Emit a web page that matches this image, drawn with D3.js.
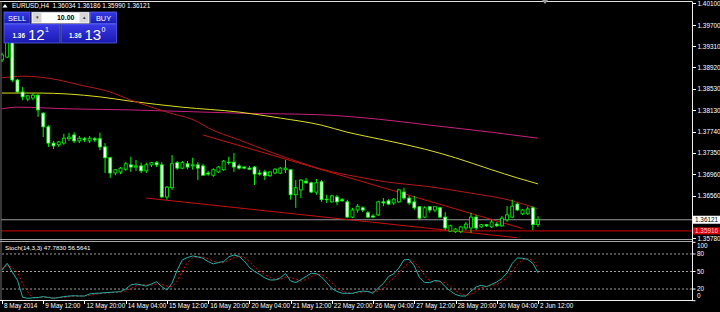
<!DOCTYPE html>
<html>
<head>
<meta charset="utf-8">
<script src="https://cdn.jsdelivr.net/npm/d3@7"></script>
<style>
    html, body { margin: 0; padding: 0; background: #000; }
    #chart { width: 720px; height: 312px; }
    svg { display: block; font-family: "Liberation Sans", Arial, sans-serif; }
    .axis text { fill: #fff; font-size: 6.4px; }
    .axis path, .axis line { stroke: #fff; shape-rendering: crispEdges; }
    .wick { stroke: #00ff00; stroke-width: 1; }
    .body { stroke: #00ff00; stroke-width: 0.8; }
</style>
</head>
<body>
<div id="chart"></div>
<script>
// EURUSD H4, 8 May 04:00 .. 2 Jun 12:00 (bar index 0..104)
var openP = [1.3906,1.3911,1.3970,1.3869,1.3847,1.3834,1.3836,1.3841,1.3808,1.3783,
    1.3753,1.3750,1.3753,1.3761,1.3768,1.3757,1.3761,1.3757,1.3761,1.3761,
    1.3746,1.3726,1.3698,1.3700,1.3705,1.3713,1.3709,1.3711,1.3702,1.3713,
    1.3717,1.3713,1.3654,1.3671,1.3717,1.3707,1.3715,1.3711,1.3713,1.3711,
    1.3698,1.3694,1.3700,1.3704,1.3718,1.3718,1.3711,1.3709,1.3707,1.3709,
    1.3698,1.3700,1.3693,1.3698,1.3698,1.3704,1.3704,1.3658,1.3667,1.3683,
    1.3680,1.3663,1.3682,1.3649,1.3645,1.3654,1.3649,1.3645,1.3617,1.3630,
    1.3634,1.3625,1.3619,1.3621,1.3645,1.3647,1.3643,1.3645,1.3663,1.3652,
    1.3645,1.3636,1.3617,1.3636,1.3630,1.3634,1.3617,1.3591,1.3590,1.3590,
    1.3597,1.3597,1.3617,1.3599,1.3603,1.3599,1.3604,1.3601,1.3612,1.3617,
    1.3641,1.3623,1.3623,1.3634,1.36034];
var highP = [1.3919,1.3994,1.3989,1.3871,1.3856,1.3841,1.3845,1.3843,1.3810,1.3786,
    1.3757,1.3757,1.3770,1.3772,1.3773,1.3766,1.3764,1.3766,1.3764,1.3772,
    1.3753,1.3728,1.3705,1.3709,1.3718,1.3728,1.3722,1.3717,1.3717,1.3718,
    1.3720,1.3718,1.3674,1.3731,1.3720,1.3720,1.3720,1.3726,1.3718,1.3715,
    1.3702,1.3707,1.3711,1.3722,1.3728,1.3735,1.3715,1.3711,1.3711,1.3711,
    1.3704,1.3704,1.3702,1.3707,1.3709,1.3722,1.3705,1.3685,1.3687,1.3689,
    1.3682,1.3687,1.3685,1.3658,1.3658,1.3658,1.3652,1.3649,1.3634,1.3641,
    1.3637,1.3628,1.3623,1.3647,1.3652,1.3650,1.3652,1.3669,1.3671,1.3656,
    1.3656,1.3637,1.3637,1.3637,1.3637,1.3636,1.3626,1.3603,1.3597,1.3601,
    1.3608,1.3625,1.3621,1.3604,1.3604,1.3612,1.3608,1.3619,1.3637,1.3649,
    1.3643,1.3632,1.3636,1.3637,1.36186];
var lowP = [1.3902,1.3910,1.3865,1.3845,1.3832,1.3830,1.3832,1.3801,1.3764,1.3746,
    1.3742,1.3746,1.3750,1.3757,1.3753,1.3753,1.3755,1.3753,1.3755,1.3740,
    1.3698,1.3689,1.3694,1.3696,1.3702,1.3700,1.3702,1.3698,1.3698,1.3709,
    1.3709,1.3652,1.3649,1.3667,1.3704,1.3705,1.3705,1.3704,1.3685,1.3693,
    1.3693,1.3691,1.3698,1.3702,1.3713,1.3700,1.3704,1.3705,1.3704,1.3676,
    1.3693,1.3685,1.3691,1.3696,1.3696,1.3698,1.3649,1.3634,1.3652,1.3678,
    1.3661,1.3658,1.3645,1.3643,1.3643,1.3639,1.3645,1.3615,1.3615,1.3625,
    1.3626,1.3615,1.3615,1.3619,1.3637,1.3639,1.3639,1.3643,1.3649,1.3639,
    1.3630,1.3612,1.3615,1.3625,1.3626,1.3615,1.3593,1.3590,1.3588,1.3588,
    1.3593,1.3588,1.3593,1.3597,1.3599,1.3597,1.3599,1.3599,1.3608,1.3615,
    1.3628,1.3621,1.3621,1.3593,1.35990];
var closeP = [1.3915,1.3970,1.3869,1.3847,1.3838,1.3840,1.3841,1.3814,1.3783,1.3753,
    1.3748,1.3755,1.3762,1.3764,1.3757,1.3762,1.3759,1.3762,1.3759,1.3746,
    1.3726,1.3698,1.3704,1.3707,1.3715,1.3709,1.3711,1.3702,1.3713,1.3717,
    1.3713,1.3654,1.3672,1.3715,1.3707,1.3717,1.3709,1.3713,1.3707,1.3694,
    1.3696,1.3704,1.3709,1.3720,1.3717,1.3709,1.3707,1.3707,1.3705,1.3696,
    1.3696,1.3693,1.3700,1.3705,1.3707,1.3707,1.3658,1.3671,1.3685,1.3680,
    1.3663,1.3680,1.3649,1.3650,1.3656,1.3645,1.3647,1.3617,1.3630,1.3637,
    1.3630,1.3617,1.3617,1.3645,1.3643,1.3641,1.3650,1.3667,1.3652,1.3643,
    1.3634,1.3615,1.3634,1.3630,1.3636,1.3617,1.3597,1.3601,1.3595,1.3599,
    1.3604,1.3617,1.3597,1.3603,1.3601,1.3608,1.3601,1.3615,1.3621,1.3637,
    1.3630,1.3630,1.3632,1.3603,1.36121];

// moving averages, read at a few bars
var redMaBar = [0, 4, 11, 15, 21, 25, 32, 38, 40, 46, 52, 58, 62, 69, 75, 82, 91, 99, 104];
var redMaVal = [1.3873,1.3876,1.3869,1.3860,1.3847,1.3832,1.3810,1.3792,1.3781,1.3759,
    1.3737,1.3717,1.3705,1.3691,1.3681,1.3674,1.3661,1.3647,1.3632];
var yellowMaBar = [0, 7, 19, 25, 35, 46, 54, 62, 67, 74, 82, 88, 95, 100, 104];
var yellowMaVal = [1.3845,1.3845,1.3838,1.3830,1.3819,1.3810,1.3799,1.3786,1.3773,1.3759,
    1.3742,1.3726,1.3704,1.3689,1.3678];
var magentaMaBar = [0, 3, 13, 25, 46, 62, 73, 83, 95, 104];
var magentaMaVal = [1.3816,1.3819,1.3816,1.3814,1.3808,1.3805,1.3797,1.3786,1.3773,1.3762];

// drawn objects
var upperTrend = [[39, 1.3768], [101, 1.3596]];
var lowerTrend = [[28, 1.3652], [100, 1.3579]];
var hLinePrice = 1.35916;
var bidPrice = 1.36121;

// stochastic (14,3,3)
var stochK = [52.6,64,49,35,6,4,5,5.5,7,5.5,
    4,5.5,7,8,8.5,8,8,11.5,12.7,13,
    13.7,14.4,15,15.4,20,27,28.6,27,25,28.6,
    32.6,24,18.3,30,52.6,70,74,76.6,75,72.7,
    67,63,65.5,67,75,78.3,76,68,57,50,
    45,39,35.5,35.5,39,46.6,33.8,31,36,41.5,
    47,46.6,40.6,31,21,15.8,12.7,12.7,12.7,15,
    16.6,15.8,12.7,21.8,29.5,41.5,46,56,70,70.6,
    59.5,39.8,31.5,30.9,34.6,33.4,24,16.6,10.6,8,
    8,16.6,23.5,26.4,24,27.8,32,38,47.5,63.8,
    73.2,72.7,70.6,64,47.783];
var stochD = [55,60,57,48,30,15,5,5,6,6,
    5.5,5,5.5,6.8,7.8,8.2,8.2,9.2,10.7,12.4,
    13.1,13.7,14.4,14.9,16.8,20.8,25.2,27.5,26.9,26.9,
    28.7,28.4,25,24,33.6,51,65.5,73.5,75.2,74.8,
    71.6,67.6,65.2,65.2,69.2,73.4,76.4,74.1,67,58.3,
    50.7,44.7,39.8,36.7,36.7,40.4,39.8,37.1,33.6,36.2,
    41.5,45,44.7,39.4,30.9,22.6,16.5,13.7,12.7,13.5,
    14.8,15.8,15,16.8,21.3,30.9,39,47.8,57.3,65.5,
    66.7,56.6,43.6,34,32.3,33,30.7,24.7,17.1,11.7,
    8.9,10.9,16,22.2,24.6,26.1,27.9,32.6,39.2,49.8,
    61.5,69.9,72.2,69.1,56.5641];
var stochLevels = [80, 50, 20];
var stochLabels = [100, 80, 50, 20, 0];

var priceTicks = [1.40100,1.39700,1.39310,1.38920,1.38530,1.38130,1.37740,1.37350,1.36960,1.36560,1.35780];
var timeTickBars = [0, 8, 16, 24, 32, 40, 48, 56, 64, 72, 80, 88, 96, 104];
var timeTickLabels = ["8 May 2014","9 May 12:00","12 May 20:00","14 May 04:00","15 May 12:00",
    "16 May 20:00","20 May 04:00","21 May 12:00","22 May 20:00","26 May 04:00",
    "27 May 12:00","28 May 20:00","30 May 04:00","2 Jun 12:00"];

function mt4_chart() {

    var w = 720
        , h = 312
        , plotRight = 692
        , mainTop = 2
        , mainBottom = 239
        , subTop = 242
        , subBottom = 301
        , fmt5 = d3.format(".5f")
        ;

    var svg = d3.select("#chart")
        .append("svg")
        .attr("width", w)
        .attr("height", h);

    svg.append("rect").attr("width", w).attr("height", h).attr("fill", "#000");

    var x = d3.scaleLinear().domain([0, 104]).range([2, 538]);
    var y = d3.scaleLinear().domain([1.3578, 1.4010]).range([238.3, 3.3]);
    var ys = d3.scaleLinear().domain([0, 100]).range([300.7, 242.3]);

    svg.append("defs").append("clipPath").attr("id", "mainclip")
        .append("rect").attr("x", 1).attr("y", mainTop).attr("width", plotRight - 1).attr("height", mainBottom - mainTop);

    var main = svg.append("g").attr("clip-path", "url(#mainclip)");

    // horizontal lines
    main.append("line")
        .attr("x1", 0).attr("x2", plotRight)
        .attr("y1", y(bidPrice)).attr("y2", y(bidPrice))
        .attr("stroke", "#9a9a9a").attr("stroke-width", 1);
    main.append("line")
        .attr("x1", 0).attr("x2", plotRight)
        .attr("y1", y(hLinePrice)).attr("y2", y(hLinePrice))
        .attr("stroke", "#d40000").attr("stroke-width", 1);

    // trend lines
    [upperTrend, lowerTrend].forEach(function(t) {
        main.append("line")
            .attr("x1", x(t[0][0])).attr("y1", y(t[0][1]))
            .attr("x2", x(t[1][0])).attr("y2", y(t[1][1]))
            .attr("stroke", "#c81010").attr("stroke-width", 1);
    });

    // moving averages
    var ma_gen = d3.line()
        .x(d => x(d[0]))
        .y(d => y(d[1]))
        .curve(d3.curveMonotoneX);

    function drawMa(bars, vals, color) {
        main.append("path")
            .attr("d", ma_gen(bars.map((b, i) => [b, vals[i]])))
            .attr("fill", "none")
            .attr("stroke", color)
            .attr("stroke-width", 1);
    }
    drawMa(magentaMaBar, magentaMaVal, "#c8207e");
    drawMa(yellowMaBar, yellowMaVal, "#dede1e");
    drawMa(redMaBar, redMaVal, "#b41a1a");

    // candles
    var candles = main.append("g").selectAll("g")
        .data(d3.range(openP.length))
        .enter()
        .append("g");

    candles.append("line")
        .attr("class", "wick")
        .attr("x1", i => x(i)).attr("x2", i => x(i))
        .attr("y1", i => y(highP[i])).attr("y2", i => y(lowP[i]));

    candles.append("rect")
        .attr("class", "body")
        .attr("x", i => x(i) - 1.5)
        .attr("width", 3)
        .attr("y", i => y(Math.max(openP[i], closeP[i])))
        .attr("height", i => Math.max(0.6, Math.abs(y(openP[i]) - y(closeP[i]))))
        .attr("fill", i => closeP[i] < openP[i] ? "#f4fff4" : "#000");

    // borders
    svg.append("line").attr("x1", 0).attr("x2", plotRight).attr("y1", 1.5).attr("y2", 1.5).attr("stroke", "#e0e0e0");
    svg.append("line").attr("x1", 1).attr("x2", 1).attr("y1", 1.5).attr("y2", subBottom).attr("stroke", "#707070");
    svg.append("line").attr("x1", plotRight + 0.5).attr("x2", plotRight + 0.5).attr("y1", 1.5).attr("y2", subBottom).attr("stroke", "#f0f0f0");
    svg.append("line").attr("x1", 0).attr("x2", plotRight).attr("y1", 239.5).attr("y2", 239.5).attr("stroke", "#a8a8a8");
    svg.append("line").attr("x1", 0).attr("x2", plotRight).attr("y1", 241.5).attr("y2", 241.5).attr("stroke", "#a8a8a8");
    svg.append("line").attr("x1", 0).attr("x2", plotRight + 0.5).attr("y1", subBottom - 0.5).attr("y2", subBottom - 0.5).attr("stroke", "#f0f0f0");

    // chart shift marker
    svg.append("path")
        .attr("d", d3.line()([[542, 0], [548, 0], [545, 4]]))
        .attr("fill", "#9a9a9a");

    // price axis
    var yAxis = d3.axisRight(y)
        .tickValues(priceTicks)
        .tickFormat(fmt5)
        .tickSize(3)
        .tickPadding(2);

    svg.append("g")
        .attr("class", "axis axis--y")
        .attr("transform", "translate(" + (plotRight + 0.5) + ",0)")
        .call(yAxis)
        .call(g => g.select(".domain").remove());

    // price labels for bid and line
    svg.append("rect").attr("x", 693).attr("y", y(bidPrice) - 4).attr("width", 27).attr("height", 8).attr("fill", "#fff");
    svg.append("text").attr("x", 695).attr("y", y(bidPrice)).attr("dy", "0.35em")
        .attr("font-size", 6.4).attr("fill", "#000").text(fmt5(bidPrice));
    svg.append("rect").attr("x", 693).attr("y", y(hLinePrice) - 3.5).attr("width", 27).attr("height", 7).attr("fill", "#e00000");
    svg.append("text").attr("x", 695).attr("y", y(hLinePrice)).attr("dy", "0.35em")
        .attr("font-size", 6.4).attr("fill", "#ffd0d0").text(fmt5(hLinePrice));

    // stochastic pane
    var sub = svg.append("g");

    stochLevels.forEach(function(v) {
        sub.append("line")
            .attr("x1", 2).attr("x2", plotRight)
            .attr("y1", ys(v)).attr("y2", ys(v))
            .attr("stroke", "#c8c8c8")
            .attr("stroke-width", 0.8)
            .attr("stroke-dasharray", "2,2");
    });

    var k_gen = d3.line().x((d, i) => x(i)).y(d => ys(d));

    sub.append("path")
        .attr("d", k_gen(stochD))
        .attr("fill", "none")
        .attr("stroke", "#e01010")
        .attr("stroke-width", 1)
        .attr("stroke-dasharray", "2,2");

    sub.append("path")
        .attr("d", k_gen(stochK))
        .attr("fill", "none")
        .attr("stroke", "#20b2aa")
        .attr("stroke-width", 1);

    sub.append("text")
        .attr("x", 5).attr("y", 247.5).attr("dy", "0.35em")
        .attr("font-size", 6.2).attr("fill", "#fff")
        .text("Stoch(14,3,3) " + d3.format(".4f")(stochK[stochK.length - 1]) + " " + d3.format(".4f")(stochD[stochD.length - 1]));

    stochLabels.forEach(function(v) {
        var yy = Math.max(245.7, Math.min(296, ys(v)));
        sub.append("line").attr("x1", plotRight + 0.5).attr("x2", plotRight + 3.5)
            .attr("y1", ys(v)).attr("y2", ys(v)).attr("stroke", "#fff");
        sub.append("text")
            .attr("x", plotRight + 5).attr("y", yy).attr("dy", "0.35em")
            .attr("font-size", 6.4).attr("fill", "#fff")
            .text(v);
    });

    // time axis
    var xAxis = d3.axisBottom(x)
        .tickValues(timeTickBars)
        .tickFormat((d, i) => timeTickLabels[i])
        .tickSize(3)
        .tickPadding(0);

    svg.append("g")
        .attr("class", "axis axis--x")
        .attr("transform", "translate(0," + subBottom + ")")
        .call(xAxis)
        .call(g => g.select(".domain").remove())
        .call(g => g.selectAll("text")
            .attr("text-anchor", "start")
            .attr("dx", 1.5)
            .attr("y", 5)
            .attr("dy", "0.35em"));

    // header
    svg.append("path").attr("d", d3.line()([[2.5, 7.5], [7.5, 7.5], [5, 4]])).attr("fill", "#fff");
    svg.append("text")
        .attr("x", 12).attr("y", 6).attr("dy", "0.35em")
        .attr("font-size", 6.4).attr("fill", "#fff")
        .attr("xml:space", "preserve")
        .text("EURUSD,H4  " + [openP[104], highP[104], lowP[104], closeP[104]].map(fmt5).join(" "));

    // one click trading panel
    var defs = svg.select("defs");
    var grad = defs.append("linearGradient").attr("id", "btn").attr("x1", 0).attr("x2", 0).attr("y1", 0).attr("y2", 1);
    grad.append("stop").attr("offset", "0%").attr("stop-color", "#3a3ae8");
    grad.append("stop").attr("offset", "100%").attr("stop-color", "#1a1ab0");

    var p = svg.append("g");

    function button(bx, by, bw, bh) {
        p.append("rect").attr("x", bx).attr("y", by).attr("width", bw).attr("height", bh)
            .attr("fill", "url(#btn)").attr("stroke", "#5c6cff").attr("stroke-width", 0.7);
    }
    button(4, 12, 26, 11.5);
    button(90.5, 12, 26, 11.5);
    button(4, 24, 56, 19);
    button(61, 24, 55.5, 19);

    p.append("text").attr("x", 17).attr("y", 18).attr("dy", "0.35em").attr("text-anchor", "middle")
        .attr("font-size", 7.4).attr("fill", "#fff").text("SELL");
    p.append("text").attr("x", 103.5).attr("y", 18).attr("dy", "0.35em").attr("text-anchor", "middle")
        .attr("font-size", 7.4).attr("fill", "#fff").text("BUY");

    p.append("rect").attr("x", 31.5).attr("y", 12).attr("width", 58).attr("height", 11.5)
        .attr("fill", "#fff").attr("stroke", "#8080a0").attr("stroke-width", 0.6);
    p.append("rect").attr("x", 32.5).attr("y", 13).attr("width", 9).attr("height", 9.5).attr("fill", "#d6d6d6");
    p.append("rect").attr("x", 79.5).attr("y", 13).attr("width", 9).attr("height", 9.5).attr("fill", "#d6d6d6");
    p.append("text").attr("x", 37).attr("y", 17.5).attr("dy", "0.35em").attr("text-anchor", "middle")
        .attr("font-size", 5).attr("fill", "#333").text("▾");
    p.append("text").attr("x", 84).attr("y", 17.5).attr("dy", "0.35em").attr("text-anchor", "middle")
        .attr("font-size", 5).attr("fill", "#333").text("▴");
    p.append("text").attr("x", 74.5).attr("y", 18).attr("dy", "0.35em").attr("text-anchor", "end")
        .attr("font-size", 7).attr("font-weight", "bold").attr("fill", "#000").text("10.00");

    function quote(qx, big, sup) {
        p.append("text").attr("x", qx).attr("y", 37.5)
            .attr("font-size", 6.4).attr("font-weight", "bold").attr("fill", "#fff").text("1.36");
        p.append("text").attr("x", qx + 15.5).attr("y", 39.5)
            .attr("font-size", 15).attr("fill", "#fff").text(big);
        p.append("text").attr("x", qx + 32.5).attr("y", 31.5)
            .attr("font-size", 7).attr("fill", "#fff").text(sup);
    }
    quote(12.5, "12", "1");
    quote(69, "13", "0");
}

mt4_chart();
</script>
</body>
</html>
